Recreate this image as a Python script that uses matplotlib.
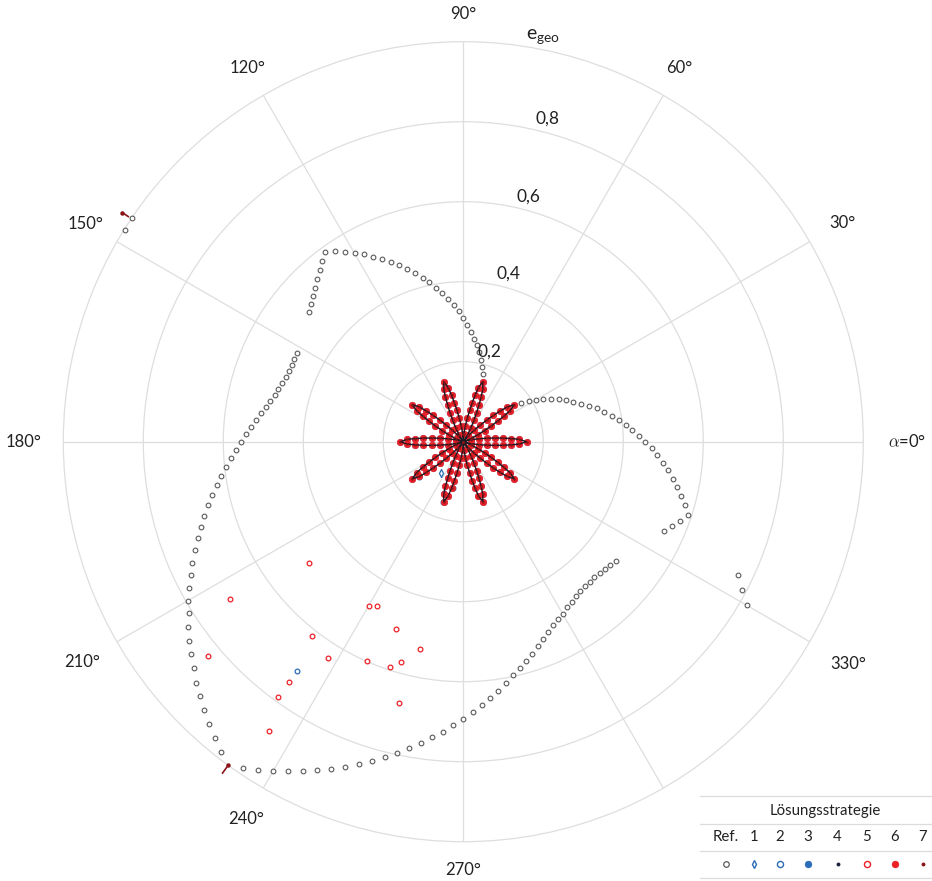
import numpy as np
import matplotlib
matplotlib.use("Agg")
import matplotlib.pyplot as plt
from matplotlib.lines import Line2D

plt.rcParams["font.family"] = ["Lato", "DejaVu Sans"]
plt.rcParams["mathtext.fontset"] = "cm"

W, H, DPI = 932, 881, 100

# ---------------------------------------------------------------------------
# Data (alpha in degrees, e_geo dimensionless)
# ---------------------------------------------------------------------------
# Reference solution, sampled every 2 degrees; stored as contiguous runs
ref_run_start = [74, 146, 152, 236, 330, 336]
ref_run_e = [
    [0.176, 0.193, 0.210, 0.228, 0.245, 0.258, 0.275, 0.292, 0.309, 0.327,
     0.343, 0.359, 0.375, 0.390, 0.408, 0.421, 0.438, 0.453, 0.470, 0.484,
     0.499, 0.515, 0.531, 0.544, 0.559, 0.575, 0.587, 0.573, 0.559, 0.547,
     0.534, 0.523, 0.513, 0.504],
    [0.998, 0.997],
    [0.471, 0.471, 0.469, 0.470, 0.472, 0.476, 0.482, 0.486, 0.494, 0.501,
     0.511, 0.521, 0.532, 0.544, 0.556, 0.569, 0.582, 0.597, 0.612, 0.626,
     0.642, 0.658, 0.674, 0.690, 0.706, 0.723, 0.743, 0.758, 0.777, 0.795,
     0.810, 0.830, 0.848, 0.863, 0.879, 0.900, 0.915, 0.933, 0.950, 0.966,
     0.984],
    [0.984, 0.967, 0.950, 0.933, 0.916, 0.899, 0.882, 0.865, 0.847, 0.830,
     0.812, 0.795, 0.777, 0.761, 0.742, 0.728, 0.709, 0.693, 0.676, 0.660,
     0.645, 0.629, 0.612, 0.597, 0.584, 0.570, 0.557, 0.544, 0.533, 0.522,
     0.511, 0.502, 0.496, 0.488, 0.484, 0.478, 0.475, 0.472, 0.473, 0.470,
     0.474, 0.476, 0.479, 0.486],
    [0.818, 0.789, 0.763],
    [0.549, 0.563, 0.577, 0.591, 0.576, 0.561, 0.546, 0.532, 0.517, 0.502,
     0.485, 0.472, 0.454, 0.440, 0.423, 0.409, 0.393, 0.377, 0.360, 0.344,
     0.327, 0.309, 0.291, 0.276, 0.261, 0.244, 0.226, 0.210, 0.193, 0.174],
]
ref_step = 2

# Star-shaped result of strategies 3/4/6/7: ten petals, one every 36 degrees
petal_alpha = [0, 36, 72, 108, 144, 180, 216, 252, 288, 324]
petal_e = [0.0, 0.02, 0.04, 0.06, 0.08, 0.10, 0.12, 0.14, 0.158]
petal_dalpha = [0.0, 14.0, 10.6, 8.3, 6.6, 5.1, 3.8, 2.4, 0.0]

# Strategy 1 (blue diamond)
s1_alpha = [234.3]
s1_e = [0.095]

# Strategy 2 (blue open circle)
s2_alpha = [215.3, 218.5, 249.8, 251.6, 257.9, 234.1]
s2_e = [0.141, 0.141, 0.137, 0.158, 0.119, 0.708]

# Strategy 5 (red open circle)
s5_alpha = [218.2, 214.0, 240.0, 242.2, 250.2, 258.1, 232.1, 220.0, 238.0,
            246.2, 252.0, 254.2, 234.0, 234.0, 256.1, 236.1]
s5_e = [0.492, 0.703, 0.473, 0.464, 0.499, 0.529, 0.615, 0.833, 0.639,
        0.598, 0.593, 0.573, 0.743, 0.789, 0.672, 0.871]

# Strategy 7 values running past the axis limit
s7_out_alpha = [146.1, 234.0]
s7_out_e_from = [1.009, 1.000]
s7_out_e_to = [1.027, 1.024]
s7_out_dot = [1.027, 1.000]

# Legend entries
legend_labels = ["Ref.", "1", "2", "3", "4", "5", "6", "7"]

# ---------------------------------------------------------------------------
C_REF = "#5a5a5a"
C_BLUE = "#2b6cb8"
C_NAVY = "#1b2140"
C_RED = "#ec2027"
C_DRED = "#8a1418"
C_GRID = "#dedede"

fig = plt.figure(figsize=(W / DPI, H / DPI), dpi=DPI)
cx, cy, R = 463.3, 441.7, 400.0
ax = fig.add_axes([(cx - R) / W, (H - cy - R) / H, 2 * R / W, 2 * R / H],
                  projection="polar")
ax.set_ylim(0, 1)
ax.set_rgrids([0.2, 0.4, 0.6, 0.8], labels=[""] * 4)
ax.set_thetagrids(np.arange(0, 360, 30), labels=[""] * 12)
ax.grid(True, color=C_GRID, lw=0.9)
ax.spines["polar"].set_color(C_GRID)
ax.spines["polar"].set_linewidth(0.9)
ax.tick_params(length=0)

rad = np.deg2rad

# reference runs
for start, vals in zip(ref_run_start, ref_run_e):
    a = start + ref_step * np.arange(len(vals))
    ax.plot(rad(a), vals, ls="none", marker="o", ms=3.4, mfc="white",
            mec=C_REF, mew=0.8, clip_on=False, zorder=3)

# star petals
star_t, star_r = [], []
for c in petal_alpha:
    t = [c - d for d in petal_dalpha] + [c + d for d in petal_dalpha[-2::-1]]
    r = list(petal_e) + list(petal_e[-2::-1])
    star_t.append(rad(np.array(t)))
    star_r.append(np.array(r))

for t, r in zip(star_t, star_r):
    ax.plot(t, r, ls="none", marker="o", ms=4.4, mfc=C_BLUE, mec=C_BLUE,
            mew=0.3, zorder=4)
for t, r in zip(star_t, star_r):
    ax.plot(t, r, ls="none", marker="o", ms=4.8, mfc=C_RED, mec=C_RED,
            mew=0.3, zorder=6)
for t, r in zip(star_t, star_r):
    ax.plot(t, r, color="#1c1a22", lw=1.0, marker="o", ms=1.8,
            mfc=C_DRED, mec=C_DRED, mew=0, zorder=7)

# strategy 1 and 2 (blue)
ax.plot(rad(np.array(s2_alpha)), s2_e, ls="none", marker="o", ms=3.4,
        mfc="none", mec=C_BLUE, mew=0.9, zorder=5)
ax.plot(rad(np.array(s1_alpha)), s1_e, ls="none", marker="d", ms=3.6,
        mfc="white", mec=C_BLUE, mew=0.9, zorder=8)

# strategy 5 (red open)
ax.plot(rad(np.array(s5_alpha)), s5_e, ls="none", marker="o", ms=3.4,
        mfc="white", mec=C_RED, mew=0.9, zorder=5)

# strategy 7 beyond the limit
for a, r0, r1, rd in zip(s7_out_alpha, s7_out_e_from, s7_out_e_to, s7_out_dot):
    ax.plot(rad(np.array([a, a])), [r0, r1], color=C_DRED, lw=1.2,
            clip_on=False, zorder=8)
    ax.plot(rad(a), rd, marker="o", ms=2.2, color=C_DRED, clip_on=False,
            zorder=8)

# angle labels
theta_labels = {0: (r"$\alpha$=0°", 1.11), 30: ("30°", 1.095), 60: ("60°", 1.08),
                90: ("90°", 1.07), 120: ("120°", 1.08), 150: ("150°", 1.09),
                180: ("180°", 1.10), 210: ("210°", 1.10), 240: ("240°", 1.088),
                270: ("270°", 1.07), 330: ("330°", 1.11)}
for ang, (txt, rr) in theta_labels.items():
    ax.text(rad(ang), rr, txt, ha="center", va="center", fontsize=12,
            color="#222222", clip_on=False)

# radial labels
for rv in [0.2, 0.4, 0.6, 0.8]:
    ax.annotate(f"{rv:.1f}".replace(".", ","), xy=(rad(76), rv),
                xytext=(5, 9), textcoords="offset points", ha="center",
                va="center", fontsize=12.5, color="#222222")
ax.text(rad(78.9), 1.033, r"$\mathregular{e_{geo}}$", ha="center",
        va="center", fontsize=14, color="#222222", clip_on=False)

# legend table
def fx(x):
    return x / W


def fy(y):
    return 1 - y / H


for yl in [796, 823.5, 851, 877.5]:
    fig.add_artist(Line2D([fx(700), fx(932)], [fy(yl), fy(yl)],
                          color="#dcdcdc", lw=0.9))
fig.text(fx(825), fy(810.5), "Lösungsstrategie", ha="center", va="center",
         fontsize=10.8, color="#222222")
leg_x = [726, 754, 780, 808, 837.5, 866.5, 895, 923]
for x, lab in zip(leg_x, legend_labels):
    fig.text(fx(x), fy(837), lab, ha="center", va="center", fontsize=10.8,
             color="#222222")
leg_styles = [
    dict(marker="o", ms=4.0, mfc="white", mec=C_REF, mew=0.9),
    dict(marker="d", ms=4.2, mfc="white", mec=C_BLUE, mew=1.0),
    dict(marker="o", ms=4.4, mfc="white", mec=C_BLUE, mew=1.0),
    dict(marker="o", ms=5.0, mfc=C_BLUE, mec=C_BLUE, mew=0.3),
    dict(marker="o", ms=2.8, mfc=C_NAVY, mec=C_NAVY, mew=0),
    dict(marker="o", ms=4.4, mfc="white", mec=C_RED, mew=1.0),
    dict(marker="o", ms=5.0, mfc=C_RED, mec=C_RED, mew=0.3),
    dict(marker="o", ms=2.8, mfc=C_DRED, mec=C_DRED, mew=0),
]
for x, st in zip(leg_x, leg_styles):
    fig.add_artist(Line2D([fx(x)], [fy(864)], ls="none", **st))

fig.savefig("out.png", dpi=DPI, facecolor="white")
